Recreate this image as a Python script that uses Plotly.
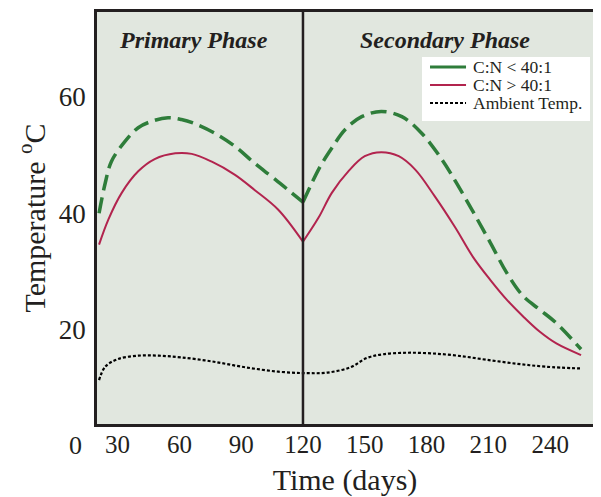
import plotly.graph_objects as go

# ---- data ----
x_ticks = [30, 60, 90, 120, 150, 180, 210, 240]
y_ticks = [20, 40, 60]
phase_boundary = 120

green_days = [21, 24, 27, 33.5, 40, 46.5, 54.5, 61, 67.5, 77, 87, 96.5, 106.5, 120,
              128, 134, 140.5, 148.5, 158, 168, 177.5, 187.5, 194.5, 202.5, 211, 219, 227, 235, 243, 255]
green_temp = [40.0, 45.2, 48.9, 52.3, 54.7, 55.8, 56.4, 56.1, 55.4, 53.8, 51.5, 48.6, 45.8, 41.9,
              47.8, 51.2, 54.4, 56.6, 57.5, 56.6, 53.8, 49.2, 45.2, 40.3, 34.9, 29.7, 25.7, 23.4, 21.1, 16.6]

red_days = [21, 25.5, 32, 40, 48, 58, 66, 75.5, 87, 96.5, 108, 120,
            127.5, 134, 142, 150, 158, 166.5, 174.5, 184, 194, 202.5, 211, 219, 227, 235, 243, 255]
red_temp = [34.6, 38.9, 43.5, 47.2, 49.3, 50.3, 50.2, 48.9, 46.6, 44.0, 40.6, 35.1,
            39.2, 43.5, 47.2, 49.8, 50.5, 49.8, 47.5, 42.9, 37.5, 32.5, 28.5, 25.1, 22.2, 19.6, 17.6, 15.6]

amb_days = [21, 24, 30, 40, 50, 61, 76, 92, 108, 121, 132, 143, 151, 159, 170, 182, 195, 209, 224, 238, 254.5]
amb_temp = [11.3, 13.6, 14.9, 15.5, 15.5, 15.2, 14.5, 13.5, 12.75, 12.5, 12.6, 13.5, 15.1, 15.75,
            16.0, 15.9, 15.5, 14.8, 14.1, 13.6, 13.3]

series_names = ["C:N < 40:1", "C:N > 40:1", "Ambient Temp."]
phase_labels = ["Primary Phase", "Secondary Phase"]
phase_label_days = [67, 189]

GREEN = "rgb(46,125,58)"
RED = "rgb(178,36,78)"
BG = "rgb(225,231,223)"
FRAME = "#231f20"
TXT = "#231f20"
FONT = "Liberation Serif, Times New Roman, serif"

styles = [
    dict(color=GREEN, width=3.5, dash="16px,7px"),
    dict(color=RED, width=2),
    dict(color="black", width=2.2, dash="3px,2px"),
]
legend_sample_styles = [
    dict(color=GREEN, width=3),
    dict(color=RED, width=2),
    dict(color="black", width=2, dash="3px,2px"),
]


def split(days, temps, at):
    a = [(d, t) for d, t in zip(days, temps) if d <= at]
    b = [(d, t) for d, t in zip(days, temps) if d >= at]
    return a, b


fig = go.Figure()

for days, temps, name, line in [
    (green_days, green_temp, series_names[0], styles[0]),
    (red_days, red_temp, series_names[1], styles[1]),
]:
    seg1, seg2 = split(days, temps, phase_boundary)
    for seg in (seg1, seg2):
        fig.add_trace(go.Scatter(
            x=[p[0] for p in seg], y=[p[1] for p in seg], mode="lines",
            name=name, legendgroup=name, showlegend=False,
            line=dict(shape="spline", smoothing=1.0, **line),
        ))

fig.add_trace(go.Scatter(
    x=amb_days, y=amb_temp, mode="lines", name=series_names[2], showlegend=False,
    line=dict(shape="spline", smoothing=1.0, **styles[2]),
))

fig.add_shape(type="line", xref="x", yref="paper", x0=phase_boundary, x1=phase_boundary,
              y0=0, y1=1, line=dict(color=FRAME, width=2.5), layer="above")

for lab, d in zip(phase_labels, phase_label_days):
    fig.add_annotation(x=d, y=69.8, xref="x", yref="y", text="<b><i>%s</i></b>" % lab,
                       showarrow=False, font=dict(family=FONT, size=24, color=TXT))

# legend box (compact rows, as in the original figure)
fig.add_shape(type="rect", xref="paper", yref="paper", x0=0.6552, x1=0.9940, y0=0.7354, y1=0.8908,
              fillcolor="white", line=dict(width=0), layer="above")
legend_rows = [0.8665, 0.8228, 0.7791]
for name, st, yr in zip(series_names, legend_sample_styles, legend_rows):
    fig.add_shape(type="line", xref="paper", yref="paper", x0=0.6714, x1=0.7440, y0=yr, y1=yr,
                  line=st, layer="above")
    fig.add_annotation(x=0.7540, y=yr, xref="paper", yref="paper", text=name, showarrow=False,
                       xanchor="left", yanchor="middle",
                       font=dict(family=FONT, size=17.5, color=TXT))

# shared origin label
fig.add_annotation(x=-0.044, y=-0.051, xref="paper", yref="paper", text="0", showarrow=False,
                   xanchor="center", yanchor="middle",
                   font=dict(family=FONT, size=26, color=TXT))

# page body has an 8px margin: figure is sized/offset to compensate
fig.update_layout(
    width=593, height=489,
    margin=dict(l=89, r=8, t=4, b=73),
    paper_bgcolor="white", plot_bgcolor=BG,
    font=dict(family=FONT, color=TXT),
    showlegend=False,
    xaxis=dict(range=[20, 260.8], tickvals=x_ticks, showgrid=False, zeroline=False,
               automargin=False,
               showline=True, mirror=True, linecolor=FRAME, linewidth=2.5, ticks="", ticklen=0,
               ticklabelstandoff=-4,
               tickfont=dict(family=FONT, size=25, color=TXT),
               title=dict(text="Time (days)", font=dict(family=FONT, size=30, color=TXT),
                          standoff=17)),
    yaxis=dict(range=[3.75, 74.6], tickvals=y_ticks, showgrid=False, zeroline=False,
               automargin=False,
               showline=True, mirror=True, linecolor=FRAME, linewidth=2.5, ticks="", ticklen=0,
               ticklabelstandoff=3,
               tickfont=dict(family=FONT, size=27, color=TXT),
               title=dict(text="Temperature <sup>o</sup>C",
                          font=dict(family=FONT, size=30, color=TXT), standoff=5)),
)

fig.write_html("out.html")
